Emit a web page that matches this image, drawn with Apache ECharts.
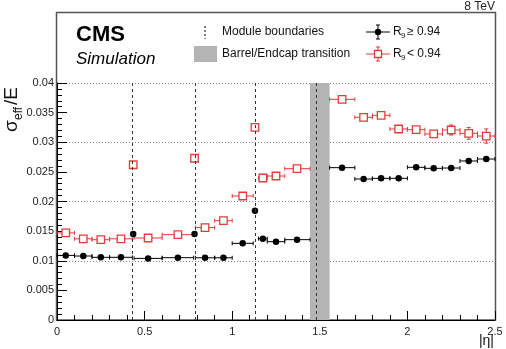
<!DOCTYPE html>
<html>
<head>
<meta charset="utf-8">
<script src="https://cdn.jsdelivr.net/npm/echarts@6/dist/echarts.min.js"></script>
<style>
  html, body { margin: 0; padding: 0; background: #fff; }
  #chart { width: 506px; height: 349px; }
</style>
</head>
<body>
<div id="chart"></div>
<script>
// |eta| bins (centre, low edge, high edge)
var etaCenter = [0.05, 0.15, 0.25, 0.365, 0.435, 0.52, 0.69, 0.785, 0.845, 0.95, 1.06, 1.13,
                 1.175, 1.25, 1.37, 1.627, 1.75, 1.85, 1.95, 2.05, 2.15, 2.25, 2.35, 2.45];
var binLow    = [0, 0.1, 0.2, 0.3, 0.435, 0.44, 0.6, 0.785, 0.79, 0.9, 1.0, 1.13,
                 1.15, 1.2, 1.3, 1.556, 1.7, 1.8, 1.9, 2.0, 2.1, 2.2, 2.3, 2.4];
var binHigh   = [0.1, 0.2, 0.3, 0.43, 0.435, 0.6, 0.78, 0.785, 0.9, 1.0, 1.12, 1.13,
                 1.2, 1.3, 1.4442, 1.7, 1.8, 1.9, 2.0, 2.1, 2.2, 2.3, 2.4, 2.5];

// sigma_eff / E
var resHighR9 = [0.0109, 0.0108, 0.01058, 0.01058, 0.01452, 0.0104, 0.01052, 0.01452, 0.0105, 0.0105, 0.01294, 0.01845,
                 0.01373, 0.01322, 0.01356, 0.02571, 0.0238, 0.02391, 0.02391, 0.02577, 0.0256, 0.02565, 0.02684, 0.02717];
var errHighR9 = [0.0001, 0.0001, 0.0001, 0.0001, 0.0002, 0.0001, 0.0001, 0.0002, 0.0001, 0.0001, 0.0002, 0.0003,
                 0.0002, 0.0002, 0.0002, 0.0002, 0.0002, 0.0002, 0.0002, 0.0002, 0.0002, 0.0002, 0.0003, 0.0003];
var resLowR9  = [0.0147, 0.0137, 0.01355, 0.0137, 0.0262, 0.01384, 0.0144, 0.0273, 0.0156, 0.01676, 0.02093, 0.0325,
                 0.02397, 0.0243, 0.02554, 0.03725, 0.03421, 0.03455, 0.03224, 0.03212, 0.0314, 0.03207, 0.0315, 0.03105];
var errLowR9  = [0.0002, 0.0001, 0.0001, 0.0001, 0.0003, 0.0001, 0.0001, 0.0003, 0.0002, 0.0002, 0.0002, 0.0004,
                 0.0002, 0.0002, 0.0002, 0.0003, 0.0003, 0.0003, 0.0003, 0.0003, 0.0005, 0.00085, 0.001, 0.0012];

var moduleBoundaries = [0.435, 0.785, 1.13, 1.479];
var transitionRange = [1.4442, 1.556];

var yTicks = [0, 0.04, 0.005];
var xTicks = [0, 2.5, 0.5];

var FONT = "'Liberation Sans', Arial, Helvetica, sans-serif";
var RED = '#e23b3b';

function makeData(vals, errs) {
    var out = [];
    for (var i = 0; i < etaCenter.length; i++) {
        out.push([etaCenter[i], vals[i], binLow[i], binHigh[i], errs[i]]);
    }
    return out;
}

function errRenderer(color) {
    return function (params, api) {
        var y = api.value(1), e = api.value(4);
        var a = api.coord([api.value(2), y]);
        var b = api.coord([api.value(3), y]);
        var top = api.coord([api.value(0), y + e]);
        var bot = api.coord([api.value(0), y - e]);
        var st = { stroke: color, lineWidth: 1 };
        var kids = [];
        if (b[0] - a[0] > 1) {
            kids.push({ type: 'line', shape: { x1: a[0], y1: a[1], x2: b[0], y2: b[1] }, style: st });
            kids.push({ type: 'line', shape: { x1: a[0], y1: a[1] - 2, x2: a[0], y2: a[1] + 2 }, style: st });
            kids.push({ type: 'line', shape: { x1: b[0], y1: b[1] - 2, x2: b[0], y2: b[1] + 2 }, style: st });
        }
        if (bot[1] - top[1] > 5) {
            kids.push({ type: 'line', shape: { x1: top[0], y1: top[1], x2: bot[0], y2: bot[1] }, style: st });
            kids.push({ type: 'line', shape: { x1: top[0] - 2, y1: top[1], x2: top[0] + 2, y2: top[1] }, style: st });
            kids.push({ type: 'line', shape: { x1: bot[0] - 2, y1: bot[1], x2: bot[0] + 2, y2: bot[1] }, style: st });
        }
        return { type: 'group', children: kids };
    };
}

var chart = echarts.init(document.getElementById('chart'), null, { renderer: 'canvas' });

var boundaryLines = [];
for (var i = 0; i < moduleBoundaries.length; i++) {
    boundaryLines.push({ xAxis: moduleBoundaries[i] });
}

var option = {
    animation: false,
    backgroundColor: '#fff',
    textStyle: { fontFamily: FONT },
    grid: { left: 57, right: 11, top: 83, bottom: 29, containLabel: false, outerBoundsMode: 'none' },
    xAxis: {
        type: 'value', min: xTicks[0], max: xTicks[1], interval: xTicks[2],
        axisLine: { show: true, onZero: false, lineStyle: { color: '#000', width: 1 } },
        axisTick: { show: true, inside: true, length: 9, lineStyle: { color: '#000' } },
        minorTick: { show: true, splitNumber: 5, length: 5, lineStyle: { color: '#000' } },
        axisLabel: { color: '#222', fontSize: 11, fontFamily: FONT, margin: 6 },
        splitLine: { show: false }
    },
    yAxis: [{
        type: 'value', min: yTicks[0], max: yTicks[1], interval: yTicks[2],
        axisLine: { show: true, lineStyle: { color: '#000', width: 1 } },
        axisTick: { show: true, inside: true, length: 10, lineStyle: { color: '#000' } },
        minorTick: { show: true, splitNumber: 5, length: 5, lineStyle: { color: '#000' } },
        axisLabel: { color: '#222', fontSize: 11, fontFamily: FONT, margin: 3 },
        splitLine: { show: false }
    }, {
        type: 'value', min: 0, max: 0.04, interval: 0.01, position: 'left',
        axisLine: { show: false }, axisTick: { show: false }, axisLabel: { show: false },
        splitLine: { show: true, lineStyle: { color: '#888', type: [1, 2], width: 1 } }
    }],
    series: [{
        // band and module boundaries
        type: 'line', data: [], silent: true, z: 1,
        markArea: {
            silent: true,
            itemStyle: { color: '#b4b4b4' },
            data: [[{ xAxis: transitionRange[0] }, { xAxis: transitionRange[1] }]]
        },
        markLine: {
            silent: true, symbol: ['none', 'none'],
            label: { show: false },
            lineStyle: { color: '#333', type: [3, 3], width: 1 },
            data: boundaryLines
        }
    }, {
        type: 'custom', name: 'hiErr', z: 3,
        renderItem: errRenderer('#000'),
        encode: { x: 0, y: 1 },
        data: makeData(resHighR9, errHighR9)
    }, {
        type: 'custom', name: 'loErr', z: 3,
        renderItem: errRenderer(RED),
        encode: { x: 0, y: 1 },
        data: makeData(resLowR9, errLowR9)
    }, {
        type: 'scatter', name: 'R9 >= 0.94', z: 4,
        symbol: 'circle', symbolSize: 6.5,
        itemStyle: { color: '#000', opacity: 1 },
        data: makeData(resHighR9, errHighR9)
    }, {
        type: 'scatter', name: 'R9 < 0.94', z: 4,
        symbol: 'rect', symbolSize: 7.5,
        itemStyle: { color: '#fff', borderColor: RED, borderWidth: 1.3, opacity: 1 },
        data: makeData(resLowR9, errLowR9)
    }],
    graphic: [
        // frame
        { type: 'rect', z: 0, silent: true, shape: { x: 56.5, y: 12.5, width: 439, height: 307.5 },
          style: { fill: null, stroke: '#555', lineWidth: 1.5 } },
        { type: 'text', style: { text: '8 TeV', x: 495, y: 7, align: 'right', verticalAlign: 'middle', font: '12px ' + FONT, fill: '#222' } },
        { type: 'text', style: { text: 'CMS', x: 76, y: 35, verticalAlign: 'middle', font: 'bold 22px ' + FONT, fill: '#000' } },
        { type: 'text', style: { text: 'Simulation', x: 76, y: 59, verticalAlign: 'middle', font: 'italic 17px ' + FONT, fill: '#000' } },
        // legend
        { type: 'line', shape: { x1: 205, y1: 26, x2: 205, y2: 39 }, style: { stroke: '#000', lineWidth: 1, lineDash: [2, 2] } },
        { type: 'text', style: { text: 'Module boundaries', x: 222, y: 32, verticalAlign: 'middle', font: '12px ' + FONT, fill: '#111' } },
        { type: 'rect', shape: { x: 194, y: 46, width: 23, height: 16 }, style: { fill: '#b4b4b4' } },
        { type: 'text', style: { text: 'Barrel/Endcap transition', x: 222, y: 54, verticalAlign: 'middle', font: '12px ' + FONT, fill: '#111' } },

        { type: 'line', shape: { x1: 366, y1: 32, x2: 390, y2: 32 }, style: { stroke: '#000', lineWidth: 1 } },
        { type: 'line', shape: { x1: 378, y1: 25, x2: 378, y2: 39 }, style: { stroke: '#000', lineWidth: 1 } },
        { type: 'line', shape: { x1: 376, y1: 25, x2: 380, y2: 25 }, style: { stroke: '#000', lineWidth: 1 } },
        { type: 'line', shape: { x1: 376, y1: 39, x2: 380, y2: 39 }, style: { stroke: '#000', lineWidth: 1 } },
        { type: 'circle', shape: { cx: 378, cy: 32, r: 3.2 }, style: { fill: '#000' } },
        { type: 'text', style: { text: 'R', x: 393, y: 32, verticalAlign: 'middle', font: '12px ' + FONT, fill: '#111' } },
        { type: 'text', style: { text: '9', x: 401, y: 36, verticalAlign: 'middle', font: '8px ' + FONT, fill: '#111' } },
        { type: 'text', style: { text: '\u2265 0.94', x: 407, y: 32, verticalAlign: 'middle', font: '12px ' + FONT, fill: '#111' } },

        { type: 'line', shape: { x1: 366, y1: 54, x2: 390, y2: 54 }, style: { stroke: RED, lineWidth: 1 } },
        { type: 'line', shape: { x1: 378, y1: 47, x2: 378, y2: 61 }, style: { stroke: RED, lineWidth: 1 } },
        { type: 'line', shape: { x1: 376, y1: 47, x2: 380, y2: 47 }, style: { stroke: RED, lineWidth: 1 } },
        { type: 'line', shape: { x1: 376, y1: 61, x2: 380, y2: 61 }, style: { stroke: RED, lineWidth: 1 } },
        { type: 'rect', shape: { x: 374.5, y: 50.5, width: 7, height: 7 }, style: { fill: '#fff', stroke: RED, lineWidth: 1.3 } },
        { type: 'text', style: { text: 'R', x: 393, y: 54, verticalAlign: 'middle', font: '12px ' + FONT, fill: '#111' } },
        { type: 'text', style: { text: '9', x: 401, y: 58, verticalAlign: 'middle', font: '8px ' + FONT, fill: '#111' } },
        { type: 'text', style: { text: '< 0.94', x: 407, y: 54, verticalAlign: 'middle', font: '12px ' + FONT, fill: '#111' } },

        // axis titles
        { type: 'text', style: { text: '|\u03b7|', x: 494, y: 341, align: 'right', verticalAlign: 'middle', font: '14px ' + FONT, fill: '#111' } },
        {
            type: 'group', x: 12, y: 132, rotation: Math.PI / 2,
            children: [
                { type: 'text', style: { text: '\u03c3', x: 0, y: 0, verticalAlign: 'middle', font: '19px ' + FONT, fill: '#111' } },
                { type: 'text', style: { text: 'eff', x: 12, y: 7, verticalAlign: 'middle', font: '12px ' + FONT, fill: '#111' } },
                { type: 'text', style: { text: '/E', x: 27, y: 0, verticalAlign: 'middle', font: '19px ' + FONT, fill: '#111' } }
            ]
        }
    ]
};

chart.setOption(option);
</script>
</body>
</html>
